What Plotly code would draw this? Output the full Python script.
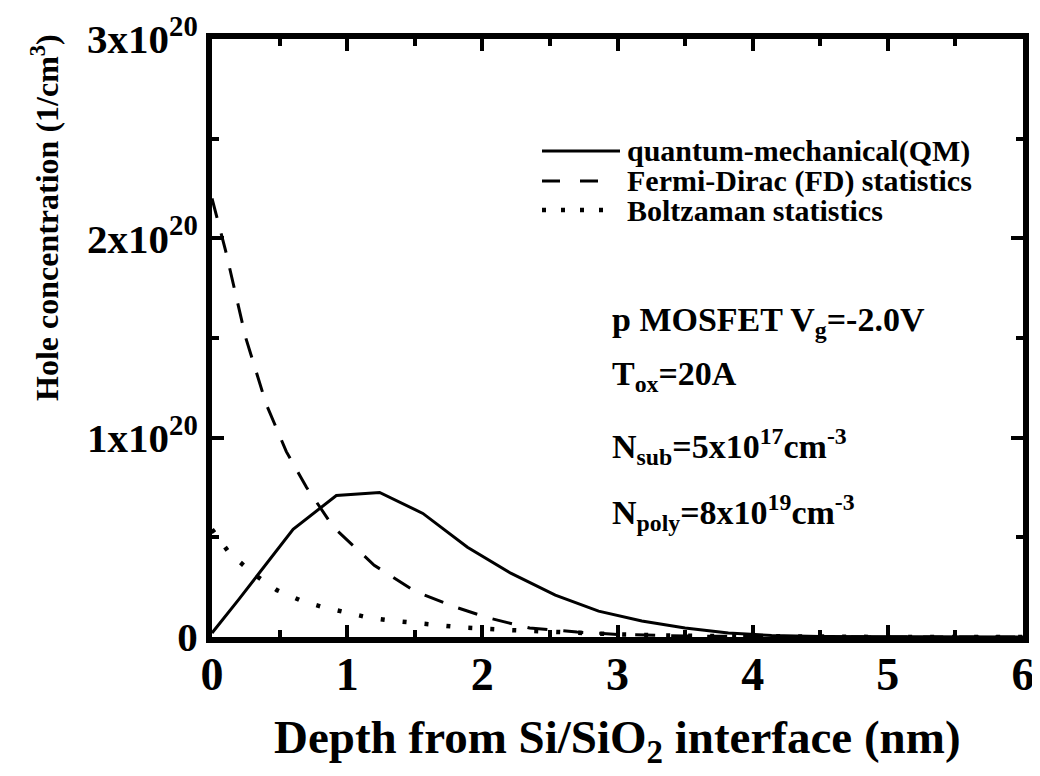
import plotly.graph_objects as go

# ---- data (hole concentration in units of 1e20 cm^-3) ----
depth_qm = [0, 0.2, 0.6, 0.92, 1.24, 1.56, 1.89, 2.21, 2.54, 2.86, 3.18, 3.5, 3.82, 4.14, 4.5, 5.0, 5.5, 6.0]
conc_qm = [0.02, 0.19, 0.54, 0.71, 0.725, 0.62, 0.45, 0.32, 0.21, 0.13, 0.08, 0.045, 0.02, 0.008, 0.003, 0.001, 0.0, 0.0]

depth_fd = [0, 0.1, 0.25, 0.4, 0.55, 0.7, 0.9, 1.2, 1.5, 1.8, 2.05, 2.35, 2.7, 3.0, 3.5, 4.0, 5.0, 6.0]
conc_fd = [2.2, 1.94, 1.5, 1.17, 0.93, 0.75, 0.55, 0.36, 0.23, 0.15, 0.095, 0.045, 0.025, 0.013, 0.005, 0.002, 0.0, 0.0]

depth_bz = [0, 0.13, 0.32, 0.48, 0.65, 0.82, 1.0, 1.16, 1.33, 1.5, 1.67, 1.85, 2.2, 2.5, 3.0, 3.5, 4.0, 5.0, 6.0]
conc_bz = [0.54, 0.42, 0.31, 0.235, 0.185, 0.15, 0.122, 0.097, 0.082, 0.072, 0.06, 0.048, 0.035, 0.025, 0.013, 0.006, 0.003, 0.0, 0.0]

series_names = ["quantum-mechanical(QM)", "Fermi-Dirac (FD) statistics", "Boltzaman statistics"]

x_tickvals = [0, 1, 2, 3, 4, 5, 6]
x_ticktext = ["0", "1", "2", "3", "4", "5", "6"]
y_tickvals = [0, 1, 2, 3]
y_ticktext = ["0", "1x10<sup>20</sup>", "2x10<sup>20</sup>", "3x10<sup>20</sup>"]

info_lines = [
    "p MOSFET V<sub>g</sub>=-2.0V",
    "T<sub>ox</sub>=20A",
    "N<sub>sub</sub>=5x10<sup>17</sup>cm<sup>-3</sup>",
    "N<sub>poly</sub>=8x10<sup>19</sup>cm<sup>-3</sup>",
]

FONT = "Liberation Serif"
PAGE_OFF = 8                      # default page margin of the html body
W, H = 1040 - PAGE_OFF, 776 - PAGE_OFF
PL, PT, PR, PB = 212, 39, 1023, 637   # plot box in screen pixels
ML, MT = PL - PAGE_OFF, PT - PAGE_OFF
MR, MB = PAGE_OFF + W - PR, PAGE_OFF + H - PB
PW, PH = PR - PL, PB - PT


def px(xs):
    return (xs - PL) / PW


def py(ys):
    return (PB - ys) / PH


fig = go.Figure()
fig.add_trace(go.Scatter(x=depth_qm, y=conc_qm, mode="lines", name=series_names[0],
                         line=dict(color="black", width=3), showlegend=False))
fig.add_trace(go.Scatter(x=depth_fd, y=conc_fd, mode="lines", name=series_names[1],
                         line=dict(color="black", width=3, dash="20px,16px"), showlegend=False))
fig.add_trace(go.Scatter(x=depth_bz, y=conc_bz, mode="lines", name=series_names[2],
                         line=dict(color="black", width=4.5, dash="4px,18px"), showlegend=False))

axis_common = dict(
    showline=True, linewidth=6, linecolor="black", mirror="allticks",
    ticks="inside", ticklen=12, tickwidth=4, tickcolor="black",
    showgrid=False, zeroline=False, automargin=False,
)

fig.update_layout(
    width=W, height=H,
    margin=dict(l=ML, r=MR, t=MT, b=MB, autoexpand=False),
    paper_bgcolor="white", plot_bgcolor="white",
    font=dict(family=FONT, color="black", weight="bold"),
    xaxis=dict(range=[0, 6], tickvals=x_tickvals, ticktext=x_ticktext,
               tickfont=dict(size=46, family=FONT, weight="bold"),
               ticklabelstandoff=-8,
               minor=dict(dtick=0.5, ticks="inside", ticklen=7, tickwidth=4, tickcolor="black"),
               **axis_common),
    yaxis=dict(range=[0, 3], tickvals=y_tickvals, ticktext=y_ticktext,
               tickfont=dict(size=41, family=FONT, weight="bold"),
               minor=dict(dtick=0.5, ticks="inside", ticklen=7, tickwidth=4, tickcolor="black"),
               **axis_common),
    showlegend=False,
)

# legend keys (drawn as layout decorations)
key_rows = [151, 181, 210]
key_styles = [
    dict(color="black", width=3),
    dict(color="black", width=3, dash="18px,20px"),
    dict(color="black", width=4.5, dash="4px,15px"),
]
key_ends = [620, 600, 618]
for yrow, st, xend, name in zip(key_rows, key_styles, key_ends, series_names):
    fig.add_shape(type="line", xref="paper", yref="paper",
                  x0=px(542), x1=px(xend), y0=py(yrow), y1=py(yrow), line=st)
    fig.add_annotation(text=name, xref="paper", yref="paper", x=px(625), y=py(yrow),
                       xanchor="left", yanchor="middle", showarrow=False,
                       font=dict(size=30, family=FONT, weight="bold"))

info_rows = [322, 376, 446, 512]
for yrow, txt in zip(info_rows, info_lines):
    fig.add_annotation(text=txt, xref="paper", yref="paper", x=px(610), y=py(yrow),
                       xanchor="left", yanchor="middle", showarrow=False,
                       font=dict(size=34, family=FONT, weight="bold"))

# axis titles
fig.add_annotation(text="Depth from Si/SiO<sub>2</sub> interface (nm)", xref="paper", yref="paper",
                   x=0.5, y=py(741), xanchor="center", yanchor="middle", showarrow=False,
                   font=dict(size=47, family=FONT, weight="bold"))
fig.add_annotation(text="Hole concentration (1/cm<sup>3</sup>)", xref="paper", yref="paper",
                   x=px(45), y=py(218), xanchor="center", yanchor="middle", showarrow=False,
                   textangle=-90, font=dict(size=32, family=FONT, weight="bold"))

fig.write_html("out.html")
